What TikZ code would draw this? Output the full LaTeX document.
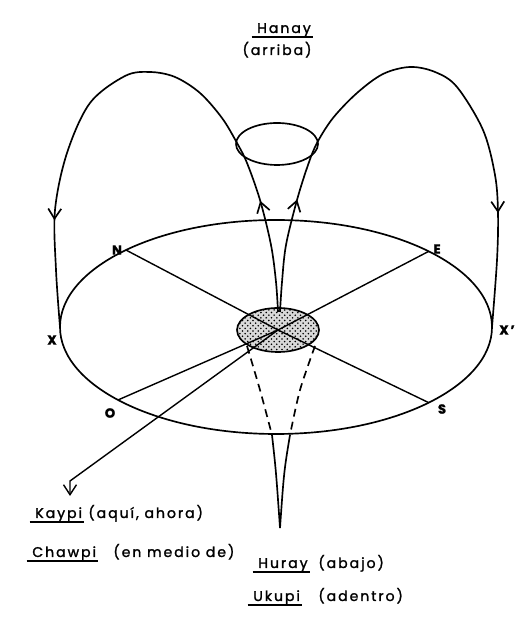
\documentclass[tikz,border=0pt]{standalone}
\usepackage{fontspec}
\setmainfont{Poppins}[LetterSpace=14, FakeBold=1.6]
\usetikzlibrary{arrows.meta,positioning,decorations.markings,patterns}
\tikzset{
  curve/.style={line width=0.95pt},
  spoke/.style={line width=0.8pt},
  hidden/.style={line width=0.95pt, dash pattern=on 4.5pt off 3pt},
  cardinal/.style={font=\bfseries\fontsize{7.5}{8}\selectfont, inner sep=0pt},
  word/.style={font=\fontsize{8}{9}\selectfont, anchor=base west, inner sep=0pt},
  uline/.style={line width=1pt},
  loopmarks/.style 2 args={decoration={markings,
      mark=at position #1 with {\arrow{Straight Barb[length=2mm,width=2.6mm]}},
      mark=at position #2 with {\arrow{Straight Barb[length=2mm,width=2.6mm]}}},
    postaction={decorate}},
}

\begin{document}
\begin{tikzpicture}
  \useasboundingbox (0,0) rectangle (10.48,12.42);
  % horizon plane
  \coordinate (mid) at (5.52,5.88);
  \coordinate (c) at (5.56,5.82);
  \draw[curve] (mid) ellipse [x radius=4.32, y radius=2.14];
  \foreach \ang/\nm in {134/N, 45/E, 223/O, 315/S, 180/X, 0/Xp}
    \coordinate (\nm) at ([shift={(mid)}]\ang:4.32 and 2.14);
  % stippled centre
  \draw[curve, preaction={fill=gray!30}, pattern=crosshatch dots] (c) ellipse [x radius=0.82, y radius=0.44];
  \foreach \nm in {N,E,O,S}
    \draw[spoke] (c) -- (\nm);
  \node[cardinal] (lN) at (2.34,7.42) {N};
  \node[cardinal] (lE) at (8.74,7.44) {E};
  \node[cardinal] (lO) at (2.20,4.16) {O};
  \node[cardinal] (lS) at (8.84,4.24) {S};
  \node[cardinal] (lX) at (1.04,5.62) {X};
  \node[cardinal] (lXp) at (10.14,5.82) {X'};
  % upper cone and the two loops
  \coordinate (top) at (5.54,9.54);
  \draw[curve] (top) ellipse [x radius=0.82, y radius=0.42];
  \draw[curve, loopmarks={0.19}{0.82}] plot[smooth, tension=0.55] coordinates {
    (5.56,6.18) (5.52,6.78) (5.42,7.52) (5.20,8.42) (4.94,9.16) (4.74,9.56)
    (4.44,10.06) (4.00,10.56) (3.50,10.88) (3.00,10.98) (2.50,10.90)
    (1.80,10.36) (1.34,9.36) (1.10,8.22) (1.12,7.02) (X)};
  \draw[curve, loopmarks={0.19}{0.81}] plot[smooth, tension=0.55] coordinates {
    (5.60,6.18) (5.64,6.78) (5.72,7.52) (5.94,8.42) (6.16,9.12) (6.34,9.56)
    (6.66,10.06) (7.14,10.56) (7.66,10.94) (8.20,11.08) (8.70,10.98)
    (9.14,10.68) (9.66,9.82) (9.90,8.92) (9.96,8.16) (9.94,7.22) (Xp)};
  % lower horn
  \coordinate (low) at (5.60,1.86);
  \coordinate (lrim) at (5.44,3.72);
  \coordinate (rrim) at (5.80,3.72);
  \draw[hidden] plot[smooth] coordinates {(4.94,5.50) (5.20,4.62) (lrim)};
  \draw[hidden] plot[smooth] coordinates {(6.30,5.50) (6.00,4.62) (rrim)};
  \draw[curve] (lrim) .. controls (5.52,3.0) .. (low);
  \draw[curve] (rrim) .. controls (5.68,3.0) .. (low);
  % pointer to Kaypi
  \coordinate (bend) at (1.40,2.80);
  \coordinate (here) at (1.40,2.50);
  \draw[spoke, -{Straight Barb[length=2mm,width=2.6mm]}] (c) -- (bend) -- (here);
  % words
  \node[word, anchor=base] (hanay) at (5.68,11.76) {Hanay};
  \node[word, anchor=base] (arriba) at (5.54,11.32) {(arriba)};
  \node[word] (kaypi) at (0.70,2.06) {Kaypi};
  \node[word] (kaypigl) at (1.76,2.06) {(aquí, ahora)};
  \node[word] (chawpi) at (0.64,1.28) {Chawpi};
  \node[word] (chawpigl) at (2.26,1.28) {(en medio de)};
  \node[word] (huray) at (5.16,1.06) {Huray};
  \node[word] (huraygl) at (6.36,1.06) {(abajo)};
  \node[word] (ukupi) at (5.06,0.40) {Ukupi};
  \node[word] (ukupigl) at (6.36,0.40) {(adentro)};
  \foreach \w in {hanay,kaypi,chawpi,huray,ukupi}
    \draw[uline] ([xshift=-3pt,yshift=-2.2pt]\w.base west) -- ([xshift=1pt,yshift=-2.2pt]\w.base east);
\end{tikzpicture}
\end{document}
